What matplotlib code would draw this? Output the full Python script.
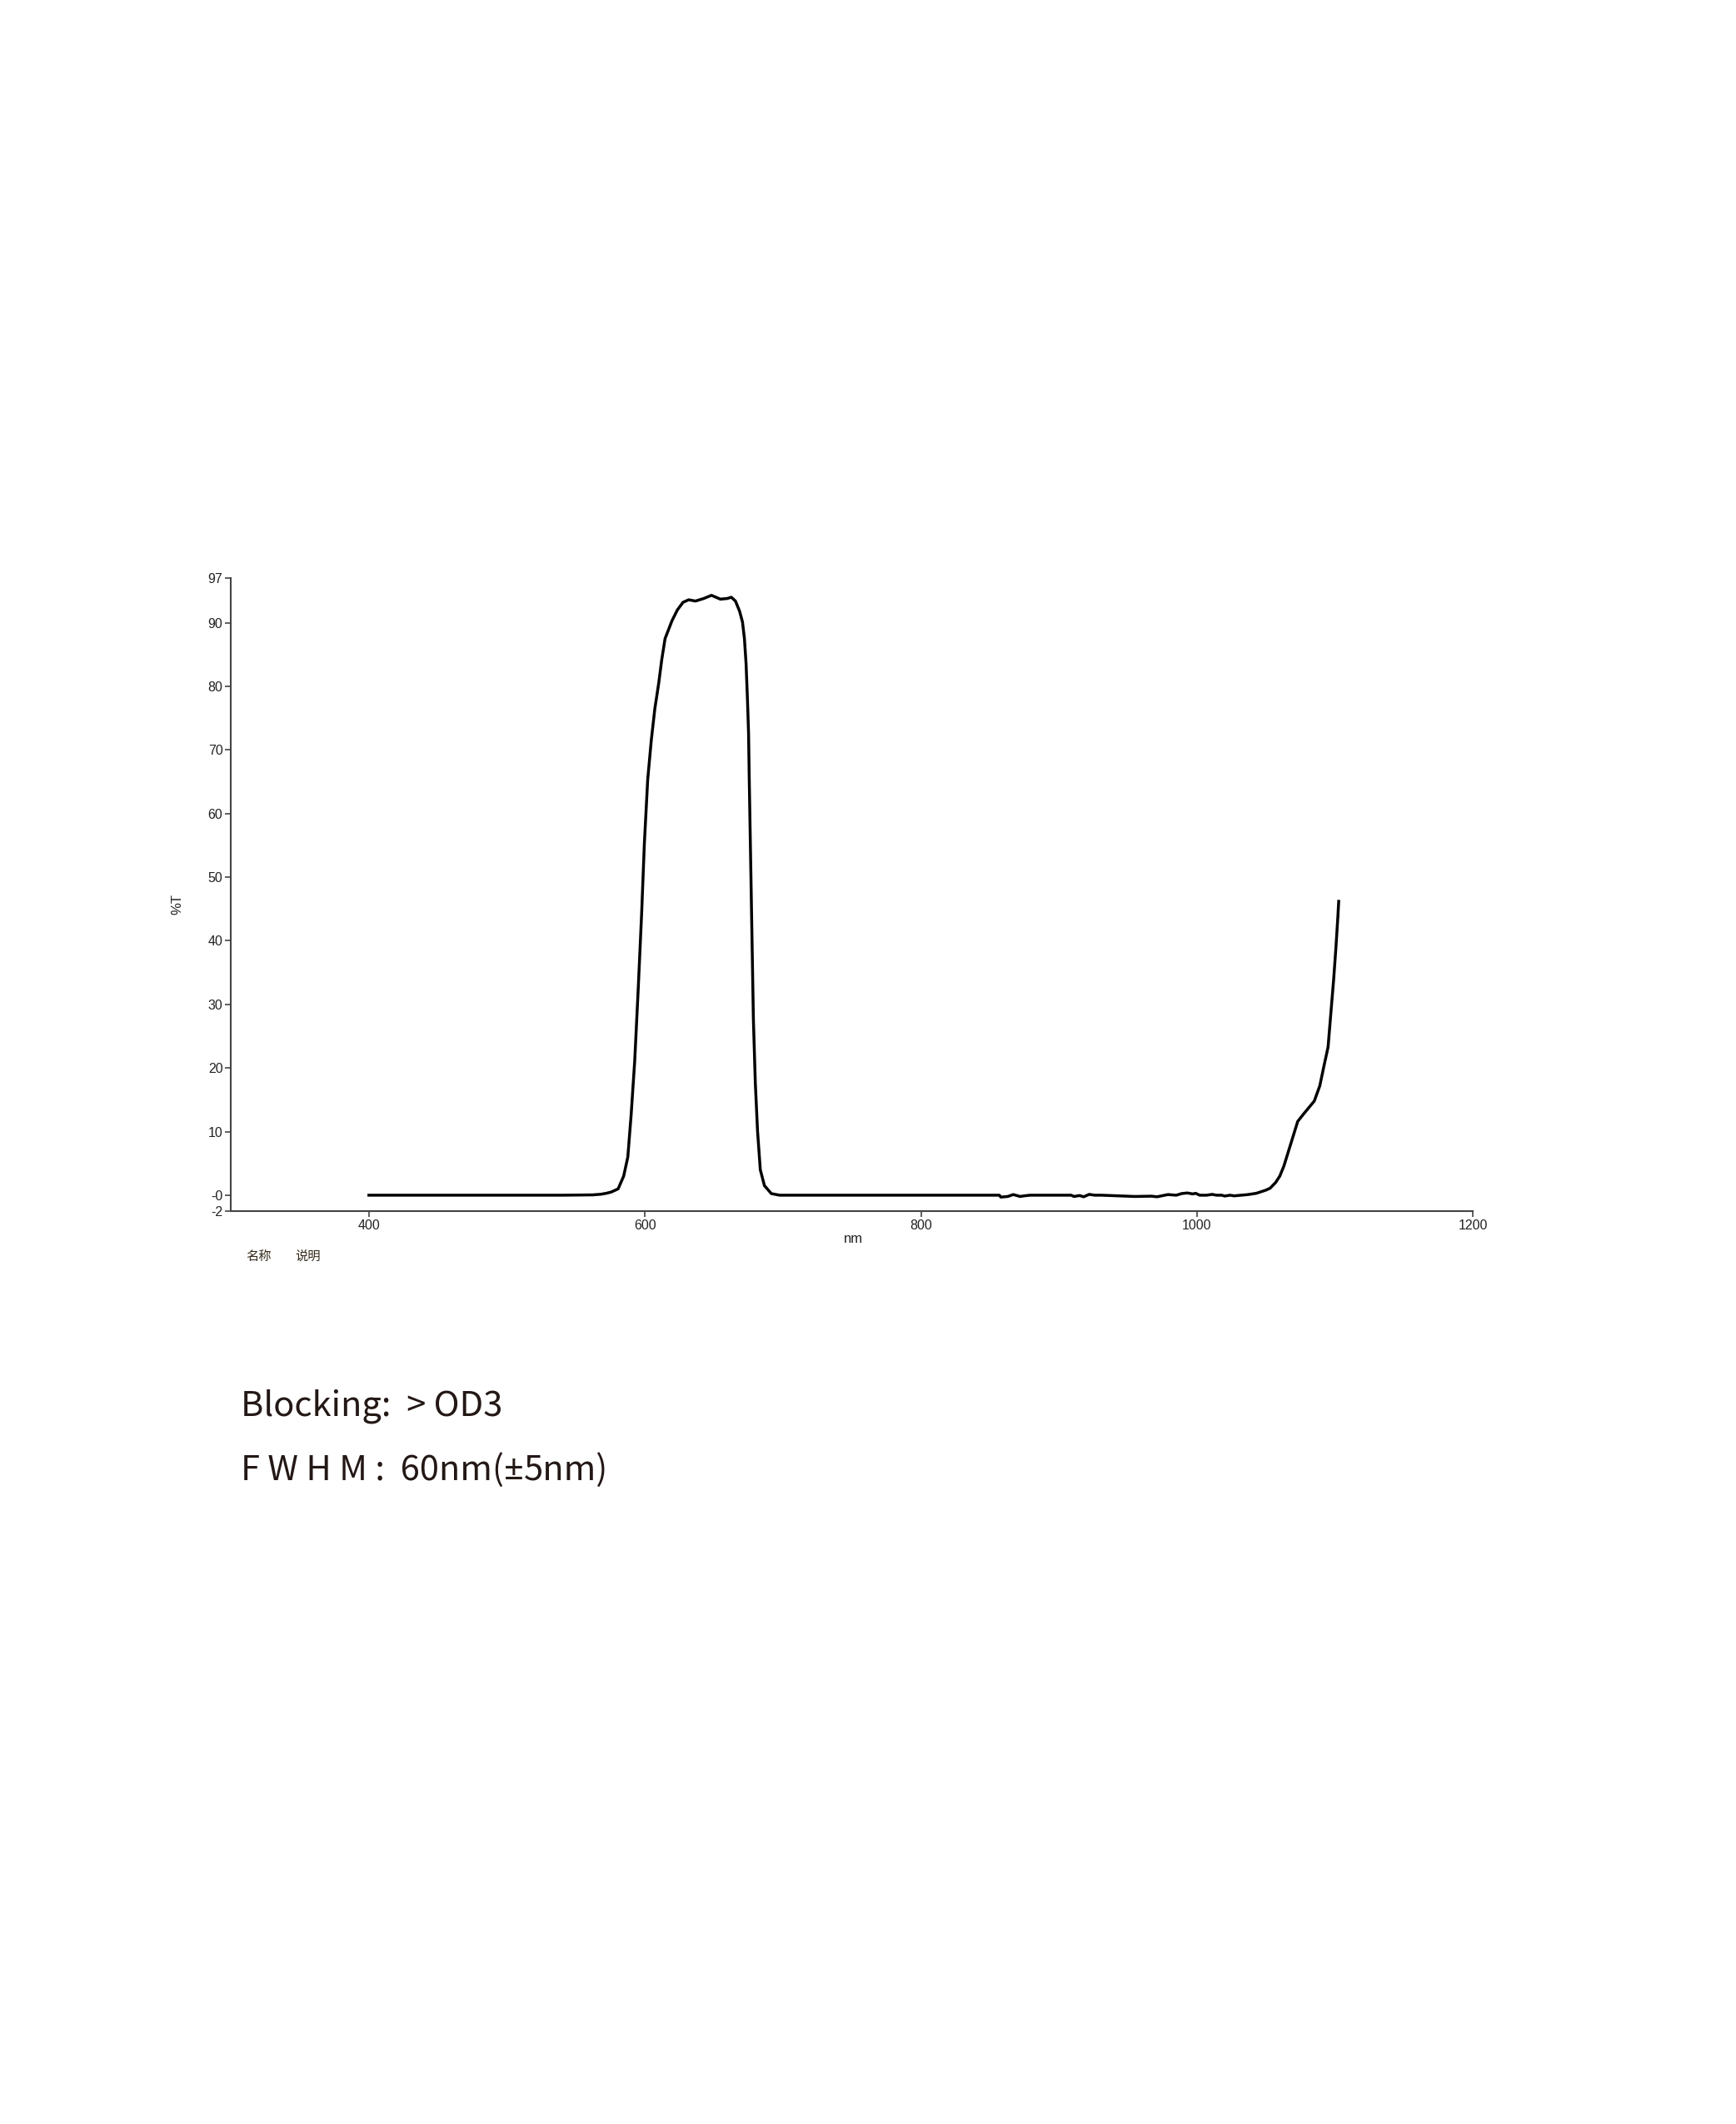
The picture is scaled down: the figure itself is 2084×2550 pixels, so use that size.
import matplotlib
matplotlib.use("Agg")
import matplotlib.pyplot as plt

plt.rcParams['font.family'] = ['Liberation Sans', 'DejaVu Sans']

# 波长 (nm) 与透过率 (%T)
wavelength = [400, 480, 540, 562, 568, 572, 575.6, 580.6, 584.6, 587.6, 590.0, 592.6,
              595.2, 597.6, 599.6, 602.0, 604.6, 607.2, 610.0, 612.2, 614.6, 619.6, 623.5,
              627.6, 631.7, 636.6, 642.6, 648.2, 654.7, 659.6, 662.6, 665.6, 668.6,
              670.7, 672.1, 673.3, 674.3, 675.1, 675.6, 676.6, 677.6, 678.6, 680.0,
              681.6, 683.6, 686.6, 691.6, 697.6, 760, 830, 856.8, 857.9, 862.9,
              866.9, 871.9, 874.9, 878.9, 908.9, 910.9, 914.9, 917.9, 921.9, 925.9,
              930.9, 955, 967, 971, 979, 985, 989, 993, 997, 999, 1002, 1007,
              1011, 1014, 1018, 1020, 1024, 1027, 1037, 1043, 1050, 1053, 1057,
              1060, 1063, 1068, 1073, 1077, 1085, 1089, 1092, 1095, 1097, 1099,
              1100.7, 1102.1, 1102.7]
transmission = [0, 0, 0, 0.05, 0.15, 0.3, 0.5, 1.0, 3.0, 6.0, 12.6, 21.1,
                32.7, 44.2, 55.3, 65.3, 71.5, 76.5, 80.5, 84.2, 87.5, 90.3, 92.0,
                93.2, 93.6, 93.4, 93.8, 94.3, 93.7, 93.8, 94.0, 93.4, 91.8,
                90.1, 87.5, 83.5, 77.9, 72.6, 65.3, 52.8, 40.2, 27.6, 17.6,
                10.1, 4.0, 1.5, 0.25, 0, 0, 0, 0, -0.3, -0.2,
                0.1, -0.2, -0.1, 0, 0, -0.2, -0.05, -0.25, 0.13, 0,
                0, -0.2, -0.15, -0.25, 0.1, 0, 0.26, 0.35, 0.2, 0.3, 0, 0,
                0.13, 0, 0, -0.13, 0, -0.1, 0.1, 0.3, 0.8, 1.1, 2.0,
                3.0, 4.6, 8.1, 11.6, 12.7, 14.8, 17.2, 20.3, 23.3, 28.6, 33.8,
                39.0, 43.8, 46.2]

xticks = [400, 600, 800, 1000, 1200]
yticks = [-2.5, 0, 10, 20, 30, 40, 50, 60, 70, 80, 90, 97]
ytick_labels = ['-2', '-0', '10', '20', '30', '40', '50', '60', '70', '80', '90', '97']

fig = plt.figure(figsize=(20.84, 25.5), dpi=100)
ax = fig.add_axes([0.1330, 0.4298, 0.7155, 0.2980])

ax.plot(wavelength, transmission, color='black', lw=2.5, solid_joinstyle='round')

ax.set_xlim(300, 1200)
ax.set_ylim(-2.5, 97)
ax.set_xticks(xticks)
ax.set_yticks(yticks)
ax.set_yticklabels(ytick_labels)

# 只留左边和下边的轴线
ax.spines['top'].set_visible(False)
ax.spines['right'].set_visible(False)
for s in ['left', 'bottom']:
    ax.spines[s].set_color('#444444')
    ax.spines[s].set_linewidth(1.5)
ax.tick_params(axis='both', direction='out', length=5, width=1.2, color='#444444',
               labelsize=11.5, labelcolor='#222222', pad=2)

fig.text(0.4918, 0.4167, 'nm', ha='center', va='center', fontsize=12, color='#222222')
fig.text(0.102, 0.5744, '%T', ha='center', va='center', rotation=90, fontsize=12,
         color='#222222')

# 名称 说明
fig.text(0.149, 0.4085, '名称', ha='center', va='center', fontsize=11,
         family=['Noto Sans CJK SC'], color='#332a1a')
fig.text(0.1772, 0.4085, '说明', ha='center', va='center', fontsize=11,
         family=['Noto Sans CJK SC'], color='#332a1a')

# 下方说明文字
cjk = ['Noto Sans CJK SC', 'DejaVu Sans']
txt_color = '#231815'
fig.text(0.1388, 0.338, 'Blocking:  > OD3', ha='left', va='center', fontsize=30,
         family=cjk, color=txt_color)

# FWHM 一行分三段写，± 用窄的西文字体
renderer = fig.canvas.get_renderer()
x0 = 0.1388
y_fw = 0.308
parts = [('F W H M :  60nm(', cjk), ('±', ['Noto Sans']), ('5nm)', cjk)]
for s, fam in parts:
    t = fig.text(x0, y_fw, s, ha='left', va='center', fontsize=30, family=fam,
                 color=txt_color)
    bb = t.get_window_extent(renderer=renderer)
    x0 += bb.width / fig.bbox.width

fig.savefig('out.png', dpi=100, facecolor='white')
